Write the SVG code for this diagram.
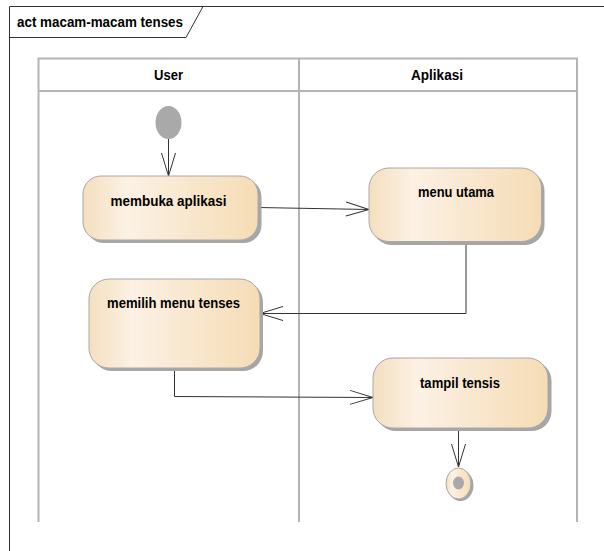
<svg xmlns="http://www.w3.org/2000/svg" width="604" height="551" viewBox="0 0 604 551">
<defs>
<linearGradient id="g" x1="0" y1="0" x2="1" y2="0">
<stop offset="0" stop-color="#f4dfbf"/>
<stop offset="0.25" stop-color="#fcf1e4"/>
<stop offset="1" stop-color="#f5dcb5"/>
</linearGradient>
<marker id="arr" markerWidth="26" markerHeight="18" refX="24" refY="8" orient="auto" markerUnits="userSpaceOnUse">
<path d="M1,1 L24,8 L1,15" fill="none" stroke="#333" stroke-width="1"/>
</marker>
</defs>
<style>
.t{font-family:"Liberation Sans",Arial,sans-serif;font-weight:bold;font-size:15px;fill:#000;text-anchor:middle}
.lane{fill:none;stroke:#b4b4b4;stroke-width:2}
.act{fill:url(#g);stroke:#a8a8a8;stroke-width:1}
.sh{fill:#a6a6a6}
.c{fill:none;stroke:#333;stroke-width:1;marker-end:url(#arr)}
</style>
<rect width="604" height="551" fill="#fff"/>
<g id="frame">
<path d="M9.5,551 L9.5,6.5 L604,6.5" fill="none" stroke="#333" stroke-width="1"/>
<path d="M9.5,37.5 L186,37.5 L203,6.5" fill="none" stroke="#333" stroke-width="1"/>
<text x="17" y="27" style="font-family:'Liberation Sans',Arial,sans-serif;font-weight:bold;font-size:14px" textLength="166" lengthAdjust="spacingAndGlyphs">act macam-macam tenses</text>
</g>
<g id="lanes">
<path class="lane" d="M38.5,522 L38.5,58.5 L577,58.5 L577,522 M38.5,91 L577,91 M299,58.5 L299,522"/>
<text class="t" x="168.5" y="80" textLength="29" lengthAdjust="spacingAndGlyphs">User</text>
<text class="t" x="437" y="80" textLength="52" lengthAdjust="spacingAndGlyphs">Aplikasi</text>
</g>
<g id="connectors">
<path class="c" d="M168.5,139 L168.5,176"/>
<path class="c" d="M258,207.5 L369,209.5"/>
<path class="c" d="M466,242 L466,313.5 L260,313.5"/>
<path class="c" d="M174.5,369 L174.5,396.5 L373,397.5"/>
<path class="c" d="M458.5,428 L458.5,467"/>
</g>
<g id="initial">
<ellipse cx="168.5" cy="122.5" rx="13" ry="16.5" fill="#a9a9a9"/>
</g>
<g id="membuka">
<rect class="sh" x="86" y="179" width="175.5" height="64" rx="18"/>
<rect class="act" x="83" y="176" width="175" height="64" rx="18"/>
<text class="t" x="168.5" y="206" textLength="116" lengthAdjust="spacingAndGlyphs">membuka aplikasi</text>
</g>
<g id="menu">
<rect class="sh" x="372" y="171" width="172.5" height="74" rx="20"/>
<rect class="act" x="369" y="168" width="172.5" height="73.5" rx="20"/>
<text class="t" x="456" y="197" textLength="76" lengthAdjust="spacingAndGlyphs">menu utama</text>
</g>
<g id="memilih">
<rect class="sh" x="92" y="282" width="171" height="89" rx="20"/>
<rect class="act" x="89" y="279" width="171" height="89" rx="20"/>
<text class="t" x="173.5" y="308" textLength="133" lengthAdjust="spacingAndGlyphs">memilih menu tenses</text>
</g>
<g id="tampil">
<rect class="sh" x="376" y="361" width="175.5" height="70" rx="20"/>
<rect class="act" x="373" y="358" width="175" height="70" rx="20"/>
<text class="t" x="460" y="388" textLength="80" lengthAdjust="spacingAndGlyphs">tampil tensis</text>
</g>
<g id="final">
<ellipse cx="460.5" cy="485.5" rx="13" ry="15.5" fill="#a6a6a6"/>
<ellipse cx="458.5" cy="483.5" rx="12.5" ry="15.5" fill="url(#g)" stroke="#a8a8a8" stroke-width="1"/>
<ellipse cx="458.5" cy="483" rx="5.5" ry="6.5" fill="#a9a9a9"/>
</g>
</svg>
